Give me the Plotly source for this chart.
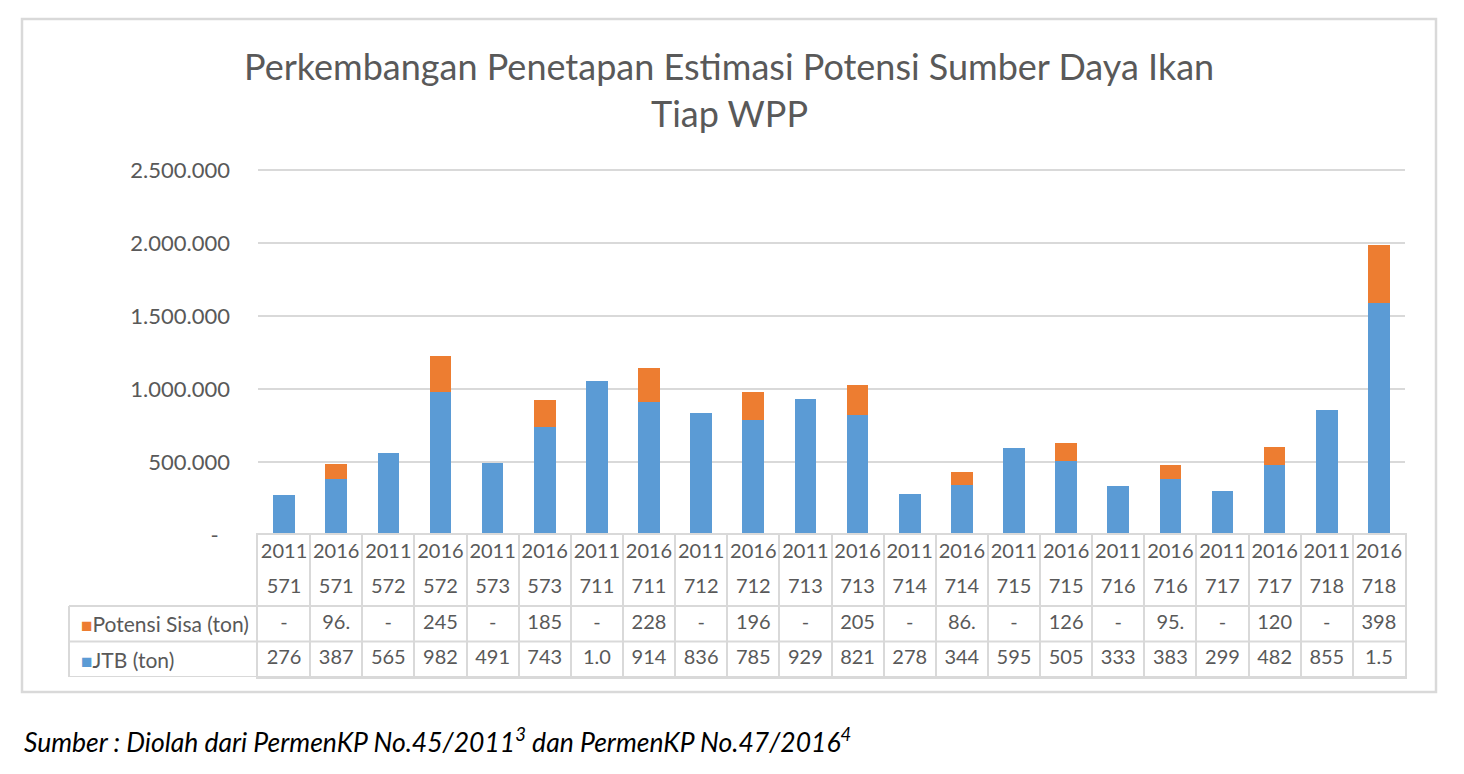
import plotly.graph_objects as go

# data
YEARS = ['2011', '2016'] * 11
WPP = ['571', '571', '572', '572', '573', '573', '711', '711', '712', '712', '713',
       '713', '714', '714', '715', '715', '716', '716', '717', '717', '718', '718']
JTB = [276000, 387000, 565000, 982000, 491000, 743000, 1058000, 914000, 836000, 785000, 929000,
       821000, 278000, 344000, 595000, 505000, 333000, 383000, 299000, 482000, 855000, 1590000]
SISA = [0, 96000, 0, 245000, 0, 185000, 0, 228000, 0, 196000, 0,
        205000, 0, 86000, 0, 126000, 0, 95000, 0, 120000, 0, 398000]
Y_TICKS = [0, 500000, 1000000, 1500000, 2000000, 2500000]

BLUE = '#5B9BD5'
ORANGE = '#ED7D31'
GRID = '#D9D9D9'
TXT = '#595959'
FONT = 'Lato'

W, H = 1464, 774
OFF = 8  # page body margin of the html


def px(x):
    return (x - OFF) / W


def py(y):
    return 1 - (y - OFF) / H


LEFT_COL = (69 - 258) / (1405 - 258)   # label column of the data table, in x domain units
Y_MAX = 2520000                         # a bit of headroom so the top gridline shows
Y_TOP = 535 - 73 * Y_MAX / 500000       # 73 px per 500.000


def dots(v):
    return f'{v:,}'.replace(',', '.') if v else '-'


cats = [f'{y} {w}' for y, w in zip(YEARS, WPP)]
cell_font = dict(family=FONT, size=20, color=TXT)

fig = go.Figure()
fig.add_trace(go.Bar(x=cats, y=JTB, name='JTB (ton)', marker_color=BLUE, hoverinfo='y'))
fig.add_trace(go.Bar(x=cats, y=SISA, name='Potensi Sisa (ton)', marker_color=ORANGE, hoverinfo='y'))

# data table rows (Excel style, truncated to the column width)
rows = [
    (3, YEARS),
    (2, WPP),
    (1, [dots(v)[:3] for v in SISA]),
    (0, [dots(v)[:3] for v in JTB]),
]
for yrow, texts in rows:
    fig.add_trace(go.Scatter(
        x=cats, y=[yrow] * len(cats), text=texts, mode='text',
        textfont=cell_font, xaxis='x2', yaxis='y2',
        hoverinfo='skip', showlegend=False, cliponaxis=False,
    ))

fig.update_layout(
    template='none',
    width=W, height=H,
    barmode='stack', bargap=0.585,
    showlegend=False,
    paper_bgcolor='white', plot_bgcolor='white',
    margin=dict(l=0, r=0, t=0, b=0, pad=0, autoexpand=False),
    font=dict(family=FONT, color=TXT),
    xaxis=dict(
        domain=[px(258), px(1405)], anchor='y', type='category',
        range=[-0.5, len(cats) - 0.5], showticklabels=False, showgrid=False,
        zeroline=False, showline=False, ticks='',
    ),
    yaxis=dict(
        domain=[py(535), py(Y_TOP)], anchor='x', range=[0, Y_MAX],
        tickvals=Y_TICKS,
        ticktext=[dots(v) if v else '-' + '\u00a0' * 2 for v in Y_TICKS],
        tickfont=dict(family=FONT, size=22, color=TXT),
        showgrid=True, gridcolor=GRID, gridwidth=2,
        zeroline=False, showline=False, ticks='', ticklabelstandoff=27,
    ),
    xaxis2=dict(
        domain=[px(258), px(1405)], anchor='y2', type='category', matches='x',
        tickson='boundaries', showgrid=True, gridcolor=GRID, gridwidth=2,
        showticklabels=False, ticks='', zeroline=False,
        showline=True, mirror=True, linecolor=GRID, linewidth=2,
    ),
    yaxis2=dict(
        domain=[py(677), py(535)], anchor='x2', range=[-0.5, 3.5],
        showgrid=False, showticklabels=False, ticks='', zeroline=False,
        showline=True, mirror=True, linecolor=GRID, linewidth=2,
    ),
)

# title
title_font = dict(family=FONT, size=36, color=TXT)
for text, yc in [('Perkembangan Penetapan Estimasi Potensi Sumber Daya Ikan', 66), ('Tiap WPP', 113)]:
    fig.add_annotation(xref='paper', yref='paper', x=px(729), y=py(yc), xanchor='center',
                       yanchor='middle', text=text, showarrow=False, font=title_font)

# label column of the table
for yv in [-0.5, 0.5, 1.5]:
    fig.add_shape(type='line', xref='x2 domain', yref='y2', x0=LEFT_COL, x1=1, y0=yv, y1=yv,
                  line=dict(color=GRID, width=2))
fig.add_shape(type='line', xref='x2 domain', yref='y2', x0=LEFT_COL, x1=LEFT_COL, y0=-0.5, y1=1.5,
              line=dict(color=GRID, width=2))

for yrow, label, color in [(1, 'Potensi Sisa (ton)', ORANGE), (0, 'JTB (ton)', BLUE)]:
    fig.add_annotation(
        xref='x2 domain', yref='y2', x=LEFT_COL + 0.009, y=yrow, xanchor='left', yanchor='middle',
        text=f'<span style="color:{color};font-size:19px">■</span>{label}', showarrow=False,
        font=dict(family=FONT, size=21, color=TXT),
    )

# chart frame
fig.add_shape(type='rect', xref='paper', yref='paper',
              x0=px(22), x1=px(1436), y0=py(692), y1=py(19),
              line=dict(color=GRID, width=2.5), fillcolor='rgba(0,0,0,0)', layer='below')

# source note
fig.add_annotation(
    xref='paper', yref='paper', x=px(22), y=py(740), xanchor='left', yanchor='middle',
    text='Sumber : Diolah dari PermenKP No.45/2011<sup>3</sup> dan PermenKP No.47/2016<sup>4</sup>',
    showarrow=False, font=dict(family=FONT, size=26.5, color='black', style='italic'),
)

fig.write_html('out.html')
